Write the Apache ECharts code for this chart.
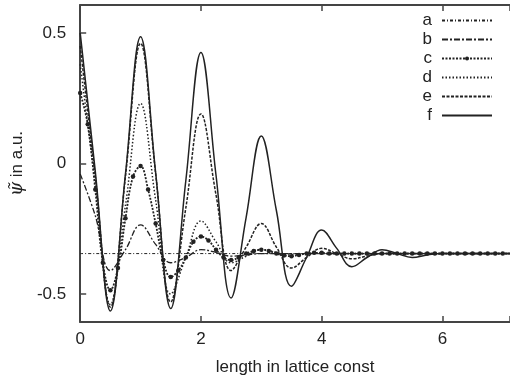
<!DOCTYPE html>
<html>
<head>
<meta charset="utf-8">
<script src="https://cdn.jsdelivr.net/npm/echarts@6/dist/echarts.min.js"></script>
<style>
  html, body { margin: 0; padding: 0; background: #fff; }
  #chart { width: 510px; height: 383px; }
</style>
</head>
<body>
<div id="chart"></div>
<script>
// x positions (lattice const) for curves a, b, d, e, f
var xs = [0, 0.25, 0.5, 0.75, 1, 1.25, 1.5, 1.75, 2, 2.25, 2.5, 2.75, 3, 3.25, 3.5, 3.75,
          4, 4.25, 4.5, 4.75, 5, 5.25, 5.5, 5.75, 6, 6.25, 6.5, 6.75, 7, 7.25];
// curve c is sampled finer (it carries the markers)
var xsC = [0, 0.125, 0.25, 0.375, 0.5, 0.625, 0.75, 0.875, 1, 1.125, 1.25, 1.375, 1.5, 1.625,
           1.75, 1.875, 2, 2.125, 2.25, 2.375, 2.5, 2.625, 2.75, 2.875, 3, 3.125, 3.25, 3.375,
           3.5, 3.625, 3.75, 3.875, 4, 4.125, 4.25, 4.375, 4.5, 4.625, 4.75, 4.875, 5, 5.125,
           5.25, 5.375, 5.5, 5.625, 5.75, 5.875, 6, 6.125, 6.25, 6.375, 6.5, 6.625, 6.75,
           6.875, 7, 7.125, 7.25];

var aVals = [-0.345, -0.345, -0.345, -0.345, -0.345, -0.345, -0.345, -0.345, -0.345, -0.345,
             -0.345, -0.345, -0.345, -0.345, -0.345, -0.345, -0.345, -0.345, -0.345, -0.345,
             -0.345, -0.345, -0.345, -0.345, -0.345, -0.345, -0.345, -0.345, -0.345, -0.345];
var bVals = [-0.04, -0.20, -0.41, -0.33, -0.235, -0.31, -0.38, -0.36, -0.33, -0.34,
             -0.355, -0.35, -0.345, -0.345, -0.345, -0.345, -0.345, -0.345, -0.345, -0.345,
             -0.345, -0.345, -0.345, -0.345, -0.345, -0.345, -0.345, -0.345, -0.345, -0.345];
var cVals = [0.27, 0.15, -0.10, -0.38, -0.485, -0.40, -0.21, -0.05, -0.01, -0.10, -0.23,
             -0.37, -0.435, -0.41, -0.36, -0.30, -0.28, -0.295, -0.33, -0.36, -0.37, -0.36,
             -0.345, -0.335, -0.33, -0.335, -0.345, -0.352, -0.355, -0.35, -0.345, -0.342,
             -0.342, -0.345, -0.345, -0.345, -0.345, -0.345, -0.345, -0.345, -0.345, -0.345,
             -0.345, -0.345, -0.345, -0.345, -0.345, -0.345, -0.345, -0.345, -0.345, -0.345,
             -0.345, -0.345, -0.345, -0.345, -0.345, -0.345, -0.345];
var dVals = [0.38, -0.08, -0.54, -0.16, 0.23, -0.14, -0.50, -0.36, -0.22, -0.30,
             -0.38, -0.355, -0.33, -0.34, -0.35, -0.345, -0.345, -0.345, -0.345, -0.345,
             -0.345, -0.345, -0.345, -0.345, -0.345, -0.345, -0.345, -0.345, -0.345, -0.345];
var eVals = [0.45, -0.05, -0.55, -0.05, 0.46, -0.04, -0.53, -0.17, 0.19, -0.12,
             -0.41, -0.32, -0.23, -0.32, -0.40, -0.36, -0.325, -0.345, -0.365, -0.355,
             -0.345, -0.345, -0.345, -0.345, -0.345, -0.345, -0.345, -0.345, -0.345, -0.345];
var fVals = [0.50, -0.03, -0.565, -0.04, 0.485, -0.035, -0.555, -0.065, 0.425, -0.045,
             -0.515, -0.205, 0.105, -0.18, -0.47, -0.36, -0.255, -0.325, -0.395, -0.36,
             -0.33, -0.345, -0.36, -0.35, -0.345, -0.345, -0.345, -0.345, -0.345, -0.345];

var names = ['a', 'b', 'c', 'd', 'e', 'f'];
var yTicks = [-0.5, 0, 0.5];
var xTicks = [0, 2, 4, 6];

function pairs(x, y) {
    return x.map(function (v, i) { return [v, y[i]]; });
}

var ink = '#222';
var font = 'Liberation Sans, Arial, sans-serif';

var chart = echarts.init(document.getElementById('chart'), null, {renderer: 'canvas'});

function lineSeries(name, data, dash, width, withMarks) {
    return {
        name: name,
        type: 'line',
        data: data,
        smooth: 0.4,
        symbol: withMarks ? 'circle' : 'none',
        symbolSize: 4.5,
        showSymbol: !!withMarks,
        // transparent item colour hides the legend dot for plain lines
        itemStyle: {color: withMarks ? ink : 'rgba(0,0,0,0)'},
        lineStyle: {color: ink, width: width, type: dash},
        clip: true
    };
}

var axisColor = '#444';

var option = {
    animation: false,
    textStyle: {fontFamily: font},
    grid: {left: 79, top: 5, right: 0, bottom: 61},
    legend: {
        data: names,
        orient: 'vertical',
        right: 17,
        top: 12,
        align: 'right',
        itemWidth: 50,
        itemHeight: 5,
        itemGap: 2,
        padding: 0,
        textStyle: {fontSize: 17, color: '#222', fontFamily: font, padding: [0, 5, 0, 0]}
    },
    xAxis: [{
        type: 'value',
        min: 0,
        max: 7.12,
        interval: 2,
        name: 'length in lattice const',
        nameLocation: 'middle',
        nameGap: 37,
        nameTextStyle: {fontSize: 17, color: '#222'},
        axisLine: {onZero: false, lineStyle: {color: axisColor, width: 2}},
        axisTick: {inside: true, length: 6, lineStyle: {color: axisColor, width: 1.5}},
        axisLabel: {fontSize: 17, color: '#222', margin: 9,
                    customValues: xTicks},
        splitLine: {show: false}
    }, {
        type: 'value',
        position: 'top',
        min: 0,
        max: 7.12,
        interval: 2,
        axisLine: {show: true, onZero: false, lineStyle: {color: axisColor, width: 2}},
        axisTick: {show: true, inside: true, length: 6, lineStyle: {color: axisColor, width: 1.5}},
        axisLabel: {show: false},
        splitLine: {show: false}
    }],
    yAxis: {
        type: 'value',
        min: -0.607,
        max: 0.607,
        name: '{i|\u03C8\u0303} in a.u.',
        nameLocation: 'middle',
        nameGap: 49,
        nameTextStyle: {
            fontSize: 17, color: '#222',
            rich: {i: {fontSize: 18, fontStyle: 'italic', fontFamily: 'DejaVu Serif', color: '#222'}}
        },
        axisLine: {show: true, onZero: false, lineStyle: {color: axisColor, width: 2}},
        axisTick: {inside: true, length: 6, lineStyle: {color: axisColor, width: 1.5},
                   customValues: yTicks},
        axisLabel: {fontSize: 17, color: '#222', margin: 14,
                    customValues: yTicks,
                    formatter: function (v) { return v === 0 ? '0' : String(v); }},
        splitLine: {show: false}
    },
    series: [
        lineSeries('a', pairs(xs, aVals), [3, 2, 1, 2], 1, false),
        lineSeries('b', pairs(xs, bVals), [6, 2, 2, 2], 1.3, false),
        lineSeries('c', pairs(xsC, cVals), [2, 1.5], 1.8, true),
        lineSeries('d', pairs(xs, dVals), [1.5, 2], 1.5, false),
        lineSeries('e', pairs(xs, eVals), [3, 1.5], 1.5, false),
        lineSeries('f', pairs(xs, fVals), 'solid', 1.5, false)
    ]
};

chart.setOption(option);
</script>
</body>
</html>
